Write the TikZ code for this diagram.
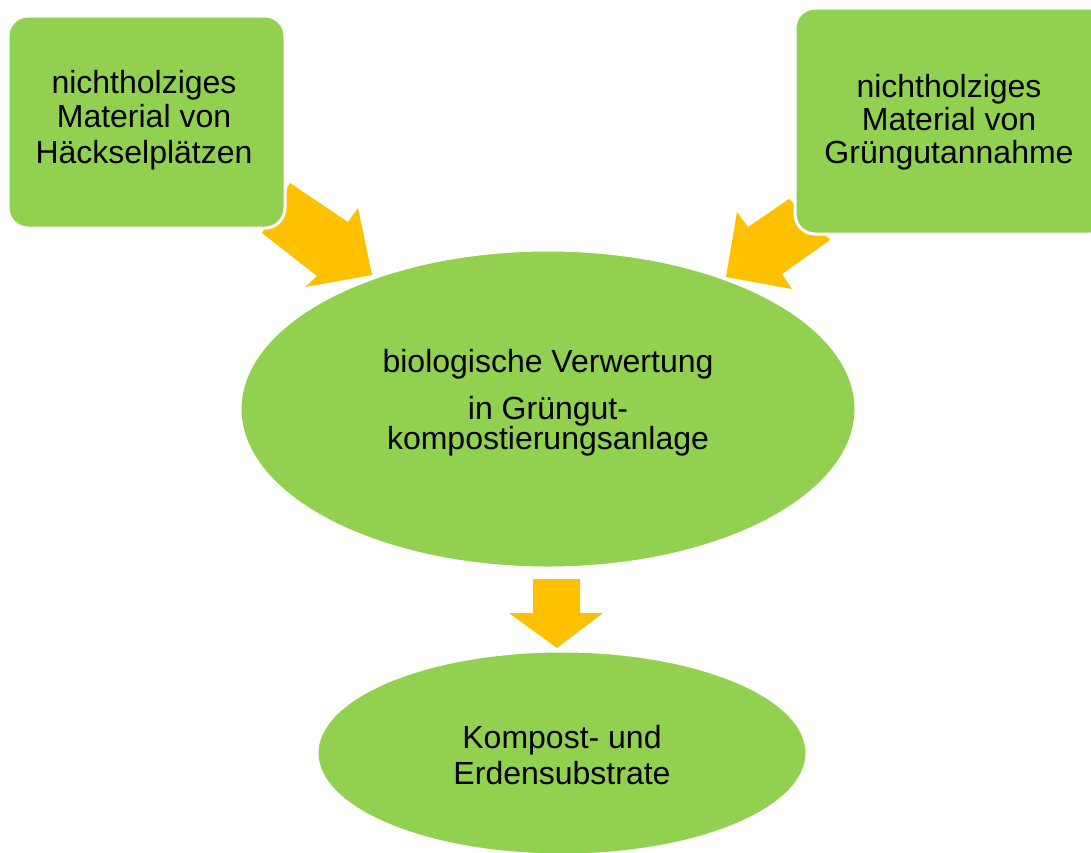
\documentclass[tikz,border=0pt]{standalone}
\usepackage{fontspec}
\setmainfont{Liberation Sans}
\definecolor{boxgreen}{HTML}{92D050}
\definecolor{arrowyellow}{HTML}{FFC000}
\begin{document}
\begin{tikzpicture}[x=1pt,y=-1pt,
  shapefill/.style={fill=boxgreen, draw=white, line width=3pt},
  blockarrow/.style={fill=arrowyellow, draw=none},
  lbl/.style={anchor=base, inner sep=0pt, font=\fontsize{32}{35}\selectfont}]
\useasboundingbox (0,0) rectangle (1091,852);
\begin{scope}
\clip (0,0) rectangle (1091,852);
% block arrows
\fill[blockarrow] (290,183) -- (348,222) -- (358,208) -- (372,275) -- (305,287) -- (317,276) -- (262,233) -- cycle;
\fill[blockarrow] (789,199) -- (748,227) -- (737,212) -- (726,277) -- (792,289) -- (782,274) -- (830,240) -- cycle;
\fill[blockarrow] (533,579) -- (580,579) -- (580,613) -- (603,613) -- (557,648) -- (509,613) -- (533,613) -- cycle;
% shapes
\draw[shapefill, rounded corners=20pt] (8,16) rectangle (285,228);
\draw[shapefill, rounded corners=20pt] (795,8) rectangle (1110,234);
\draw[shapefill] (548,409) ellipse [x radius=308, y radius=159];
\draw[shapefill] (562,753) ellipse [x radius=245, y radius=102];
\end{scope}
% texts
\node[lbl] (l1) at (144,93) {nichtholziges};
\node[lbl] (l2) at (144,127) {Material von};
\node[lbl] (l3) at (144,163) {Häckselplätzen};
\node[lbl] (r1) at (949,97) {nichtholziges};
\node[lbl] (r2) at (949,130) {Material von};
\node[lbl] (r3) at (949,163) {Grüngutannahme};
\node[lbl] (m1) at (548,372) {biologische Verwertung};
\node[lbl] (m2) at (548,419) {in Grüngut-};
\node[lbl] (m3) at (548,449) {kompostierungsanlage};
\node[lbl] (b1) at (562,748) {Kompost- und};
\node[lbl] (b2) at (562,784) {Erdensubstrate};
\end{tikzpicture}
\end{document}
